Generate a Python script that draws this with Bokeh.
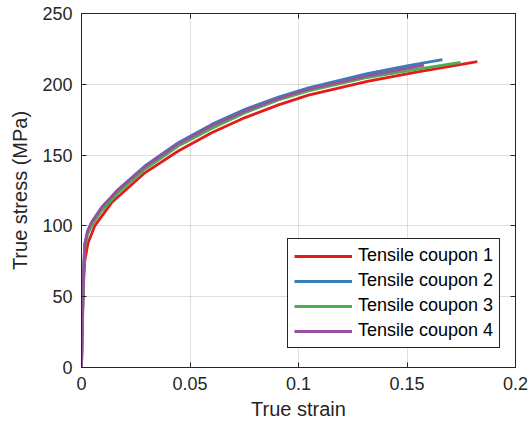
from bokeh.plotting import figure
from bokeh.models import Range1d, FixedTicker, LinearAxis, Legend, LegendItem
from bokeh.embed import file_html
from bokeh.resources import INLINE

# ---- data ----
strain_1 = [0, 0.0008, 0.0015, 0.003, 0.0061, 0.0138, 0.0292, 0.0446, 0.060, 0.0754,
            0.0908, 0.1046, 0.1317, 0.155, 0.1824]
stress_1 = [0, 55, 75, 88, 100, 116.3, 137.5, 152.9, 165.8, 176.5,
            185.5, 192.3, 202, 208.8, 216]

strain_2 = [0, 0.0008, 0.0015, 0.0028, 0.0046, 0.0092, 0.0169, 0.0292, 0.0446, 0.060,
            0.0754, 0.0908, 0.1046, 0.1317, 0.15, 0.1663]
stress_2 = [0, 62, 86.8, 96, 102, 112.7, 125.7, 142.3, 158.8, 171.7,
            182.3, 191, 197.5, 207.5, 213, 217.5]

strain_3 = [0, 0.0008, 0.0015, 0.0028, 0.005, 0.0092, 0.0169, 0.0292, 0.0446, 0.060,
            0.0754, 0.0908, 0.1046, 0.1317, 0.155, 0.1747]
stress_3 = [0, 60, 84, 94, 101, 110.5, 123.5, 140, 156.4, 168.8,
            180, 189, 195.3, 204.8, 210.8, 215.5]

strain_4 = [0, 0.0008, 0.0015, 0.0028, 0.0046, 0.0092, 0.0169, 0.0292, 0.0446, 0.060,
            0.0754, 0.0908, 0.1046, 0.1317, 0.1578]
stress_4 = [0, 63, 87, 96.5, 102.5, 113, 125.5, 141.8, 158, 170.8,
            181.2, 190, 196.5, 206, 213.5]

series_labels = ["Tensile coupon 1", "Tensile coupon 2", "Tensile coupon 3", "Tensile coupon 4"]
series_colors = ["#e41a1c", "#377eb8", "#4daf4a", "#984ea3"]

x_ticks = [0, 0.05, 0.1, 0.15, 0.2]
x_tick_labels = ["0", "0.05", "0.1", "0.15", "0.2"]
y_ticks = [0, 50, 100, 150, 200, 250]
y_tick_labels = ["0", "50", "100", "150", "200", "250"]

x_title = "True strain"
y_title = "True stress (MPa)"

FONT = "Liberation Sans"
DARK = "#262626"

p = figure(width=529, height=430, output_backend="svg", toolbar_location=None,
           x_range=Range1d(0, 0.2), y_range=Range1d(0, 250),
           min_border_left=81, min_border_right=14, min_border_top=13, min_border_bottom=63,
           background_fill_color="white", border_fill_color="white")

p.xaxis.ticker = FixedTicker(ticks=x_ticks)
p.yaxis.ticker = FixedTicker(ticks=y_ticks)
p.xaxis.major_label_overrides = {t: l for t, l in zip(x_ticks, x_tick_labels)}
p.yaxis.major_label_overrides = {t: l for t, l in zip(y_ticks, y_tick_labels)}
p.xaxis.axis_label = x_title
p.yaxis.axis_label = y_title

for ax in (p.xaxis[0], p.yaxis[0]):
    ax.major_tick_in = 5
    ax.major_tick_out = 0
    ax.minor_tick_in = 0
    ax.minor_tick_out = 0
    ax.axis_line_color = DARK
    ax.major_tick_line_color = DARK
    ax.major_label_text_font = FONT
    ax.major_label_text_font_size = "18px"
    ax.major_label_text_color = DARK
    ax.axis_label_text_font = FONT
    ax.axis_label_text_font_size = "20px"
    ax.axis_label_text_font_style = "normal"
    ax.axis_label_text_color = DARK
p.xaxis.major_label_standoff = 9
p.yaxis.major_label_standoff = 9
p.xaxis.axis_label_standoff = 5
p.yaxis.axis_label_standoff = 8

# mirrored tick marks on top and right (no labels drawn)
for loc, tk in (("above", x_ticks), ("right", y_ticks)):
    ax = LinearAxis(ticker=FixedTicker(ticks=tk),
                    major_label_text_font_size="1px", major_label_text_color=None,
                    major_tick_in=5, major_tick_out=0, minor_tick_in=0, minor_tick_out=0,
                    axis_line_color=DARK, major_tick_line_color=DARK, major_label_standoff=0)
    p.add_layout(ax, loc)

p.xgrid.ticker = FixedTicker(ticks=x_ticks)
p.ygrid.ticker = FixedTicker(ticks=y_ticks)
p.grid.grid_line_color = DARK
p.grid.grid_line_alpha = 0.15
p.outline_line_color = DARK
p.outline_line_alpha = 1
p.outline_line_width = 1

xs = [strain_1, strain_2, strain_3, strain_4]
ys = [stress_1, stress_2, stress_3, stress_4]
items = []
for x, y, lab, col in zip(xs, ys, series_labels, series_colors):
    r = p.line(x, y, line_width=2.8, line_color=col, line_join="round")
    items.append(LegendItem(label=lab, renderers=[r]))

legend = Legend(items=items, location=(206, 19), margin=0,
                label_text_font=FONT, label_text_font_size="18px", label_text_color="black",
                glyph_width=58, glyph_height=20, label_height=20, spacing=4,
                padding=6, label_standoff=6,
                border_line_color=DARK, border_line_width=1, border_line_alpha=1,
                background_fill_color="white", background_fill_alpha=1)
p.add_layout(legend)

open("out.html", "w").write(file_html(p, INLINE))
